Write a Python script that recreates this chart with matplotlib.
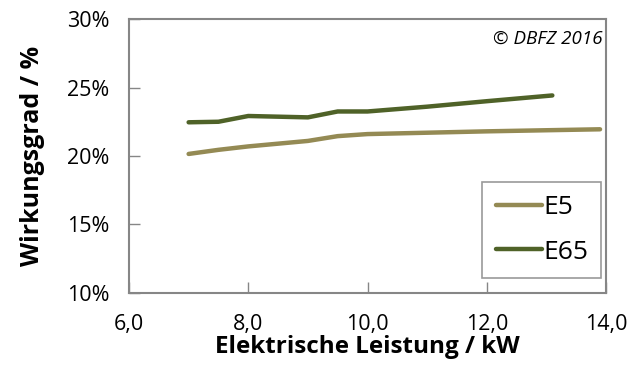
import matplotlib
matplotlib.use("Agg")
import matplotlib.pyplot as plt
from matplotlib.ticker import FuncFormatter, FixedLocator

plt.rcParams['font.family'] = ['Open Sans', 'DejaVu Sans']

# Elektrische Leistung / kW
e5_x = [7.0, 7.5, 8.0, 8.5, 9.0, 9.5, 10.0, 11.0, 12.0, 13.0, 13.9]
e5_y = [20.15, 20.45, 20.7, 20.9, 21.1, 21.45, 21.6, 21.7, 21.8, 21.88, 21.95]

e65_x = [7.0, 7.5, 8.0, 9.0, 9.5, 10.0, 11.0, 12.0, 13.1]
e65_y = [22.46, 22.5, 22.92, 22.82, 23.25, 23.25, 23.6, 24.0, 24.42]

x_ticks = [6, 8, 10, 12, 14]
y_ticks = [10, 15, 20, 25, 30]

fig = plt.figure(figsize=(6.31, 3.69), dpi=100)
ax = fig.add_axes([129 / 631, 1 - 293 / 369, 477 / 631, 274 / 369])

ax.plot(e5_x, e5_y, color='#948a54', lw=3.2, solid_capstyle='round', label='E5')
ax.plot(e65_x, e65_y, color='#4f6228', lw=3.2, solid_capstyle='round', label='E65')

ax.set_xlim(6, 14)
ax.set_ylim(10, 30)
ax.xaxis.set_major_locator(FixedLocator(x_ticks))
ax.yaxis.set_major_locator(FixedLocator(y_ticks))
ax.xaxis.set_major_formatter(FuncFormatter(lambda v, p: f"{v:.1f}".replace('.', ',')))
ax.yaxis.set_major_formatter(FuncFormatter(lambda v, p: f"{v:.0f}%"))
ax.tick_params(direction='in', length=8, width=1, color='#868686',
               labelsize=15.5)
ax.tick_params(axis='y', pad=14)
ax.tick_params(axis='x', pad=15)

for s in ax.spines.values():
    s.set_color('#868686')
    s.set_linewidth(1.5)

ax.set_xlabel('Elektrische Leistung / kW', fontsize=17.5, fontweight='bold', labelpad=0)
ax.set_ylabel('Wirkungsgrad / %', fontsize=18, fontweight='bold', labelpad=16)

ax.text(0.992, 0.96, '© DBFZ 2016', transform=ax.transAxes, ha='right', va='top',
        fontsize=13.5, style='italic')

leg = ax.legend(loc='lower right', bbox_to_anchor=(0.99, 0.055), fontsize=19,
                frameon=True, fancybox=False, handlelength=1.75, handletextpad=0.05,
                labelspacing=0.75, borderpad=0.5, borderaxespad=0.0)
leg.get_frame().set_edgecolor('#808080')
leg.get_frame().set_linewidth(1.2)

fig.savefig('out.png', dpi=100)
